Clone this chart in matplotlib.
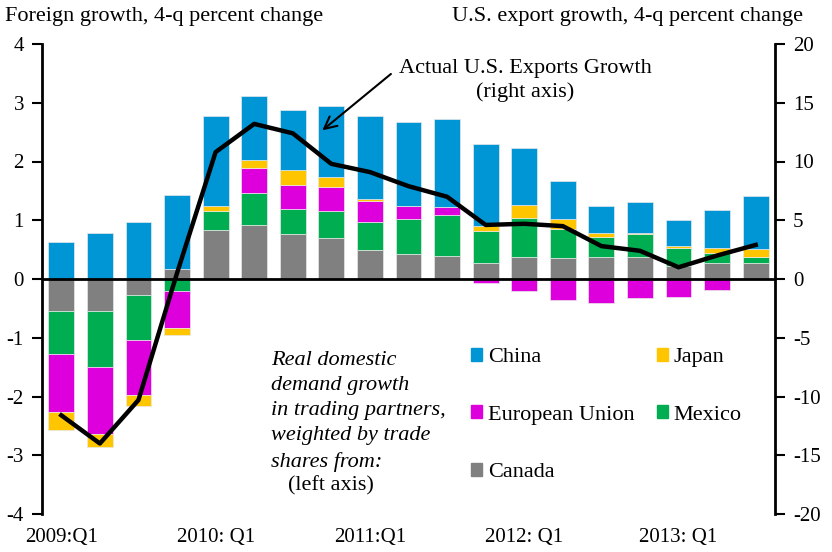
import numpy as np
import matplotlib
matplotlib.use('Agg')
import matplotlib.pyplot as plt
from matplotlib.patches import Patch

plt.rcParams['font.family'] = ['Liberation Serif', 'DejaVu Serif']
plt.rcParams['axes.unicode_minus'] = False

# quarters 2009Q1 .. 2013Q3
quarters = ['2009:Q1', '', '', '', '2010: Q1', '', '', '', '2011:Q1', '', '', '',
            '2012: Q1', '', '', '', '2013: Q1', '', '']

# contributions to foreign demand growth (left axis)
canada = [-0.55, -0.54, -0.28, 0.17, 0.83, 0.92, 0.77, 0.70, 0.49, 0.43, 0.39,
          0.28, 0.38, 0.36, 0.37, 0.37, 0.22, 0.27, 0.27]
mexico = [-0.72, -0.95, -0.76, -0.21, 0.32, 0.54, 0.43, 0.45, 0.48, 0.59, 0.70,
          0.54, 0.66, 0.49, 0.34, 0.39, 0.31, 0.18, 0.10]
eu = [-1.00, -1.14, -0.93, -0.62, 0.00, 0.43, 0.40, 0.41, 0.36, 0.23, 0.14,
      -0.07, -0.20, -0.36, -0.40, -0.32, -0.31, -0.18, 0.00]
japan = [-0.30, -0.23, -0.20, -0.13, 0.09, 0.14, 0.25, 0.17, 0.04, 0.00, 0.00,
         0.09, 0.22, 0.17, 0.08, 0.03, 0.03, 0.08, 0.14]
china = [0.63, 0.78, 0.97, 1.26, 1.54, 1.09, 1.02, 1.22, 1.40, 1.43, 1.49,
         1.39, 0.97, 0.65, 0.45, 0.52, 0.44, 0.65, 0.91]

# actual U.S. export growth (right axis)
exports = [-11.6, -14.0, -10.3, 0.5, 10.8, 13.2, 12.4, 9.8, 9.1, 7.9, 7.0,
           4.6, 4.7, 4.5, 2.8, 2.4, 1.0, 2.0, 2.9]

series = [('Canada', canada, '#808080'), ('Mexico', mexico, '#00AD50'),
          ('European Union', eu, '#DD00DD'), ('Japan', japan, '#FFC600'),
          ('China', china, '#0096D6')]

FS = 16
TS = 15

fig = plt.figure(figsize=(8.32, 5.52), dpi=100)
ax = fig.add_axes([42 / 832, 38 / 552, 733 / 832, 470 / 552])

x = np.arange(len(quarters))
pos = np.zeros(len(x))
neg = np.zeros(len(x))
colors = {}
for name, vals, col in series:
    v = np.array(vals)
    bottom = np.where(v >= 0, pos, neg)
    ax.bar(x, v, bottom=bottom, width=0.67, color=col, edgecolor='#e8e8e8',
           linewidth=0.5, zorder=2)
    pos = pos + np.where(v >= 0, v, 0)
    neg = neg + np.where(v < 0, v, 0)
    colors[name] = col

ax.axhline(0, color='black', lw=2, zorder=3)
ax.set_xlim(-0.5, 18.5)
ax.set_ylim(-4, 4)
ax.set_yticks(range(-4, 5))
ax.set_xticks(x)
ax.set_xticklabels(quarters)
ax.tick_params(axis='x', length=0, pad=10, labelsize=TS)
ax.tick_params(axis='y', length=7, width=1.5, labelsize=TS, direction='out', pad=6)
for s in ['top', 'bottom', 'right']:
    ax.spines[s].set_visible(False)
ax.spines['left'].set_linewidth(2)

ax2 = ax.twinx()
ax2.plot(x, exports, color='black', lw=3.2, zorder=4)
ax2.set_ylim(-20, 20)
ax2.set_yticks(range(-20, 21, 5))
ax2.tick_params(axis='y', length=7, width=1.5, labelsize=TS, direction='out', pad=6)
for s in ['top', 'bottom', 'left']:
    ax2.spines[s].set_visible(False)
ax2.spines['right'].set_linewidth(2)

fig.text(5 / 832, 1 - 16 / 552, 'Foreign growth, 4-q percent change',
         fontsize=FS, ha='left', va='center')
fig.text(803 / 832, 1 - 16 / 552, 'U.S. export growth, 4-q percent change',
         fontsize=FS, ha='right', va='center')

ax2.annotate('', xy=(6.71, 12.5), xytext=(8.6, 17.6),
             arrowprops=dict(arrowstyle='->', color='black', lw=1.5,
                             mutation_scale=22))
fig.text(525 / 832, 1 - 68 / 552, 'Actual U.S. Exports Growth', fontsize=FS,
         ha='center', va='center')
fig.text(525 / 832, 1 - 92 / 552, '(right axis)', fontsize=FS,
         ha='center', va='center')

fig.text(271 / 832, 1 - 351 / 552,
         'Real domestic\ndemand growth\nin trading partners,\nweighted by trade\nshares from:',
         fontsize=FS, style='italic', ha='left', va='top', linespacing=1.44)
fig.text(331 / 832, 1 - 486 / 552, '(left axis)', fontsize=FS,
         ha='center', va='center')

handles = [Patch(color=colors[n]) for n in
           ['China', 'European Union', 'Canada', 'Japan', 'Mexico']]
labels = ['China', 'European Union', 'Canada', 'Japan', 'Mexico']
ax.legend(handles, labels, ncol=2, frameon=False, fontsize=FS,
          loc='upper left', bbox_to_anchor=(471 / 832, 1 - 348 / 552),
          bbox_transform=fig.transFigure, borderaxespad=0, borderpad=0,
          handlelength=0.5, handleheight=0.5, handletextpad=0.25,
          labelspacing=1.72, columnspacing=1.0)

fig.savefig('out.png', dpi=100)
